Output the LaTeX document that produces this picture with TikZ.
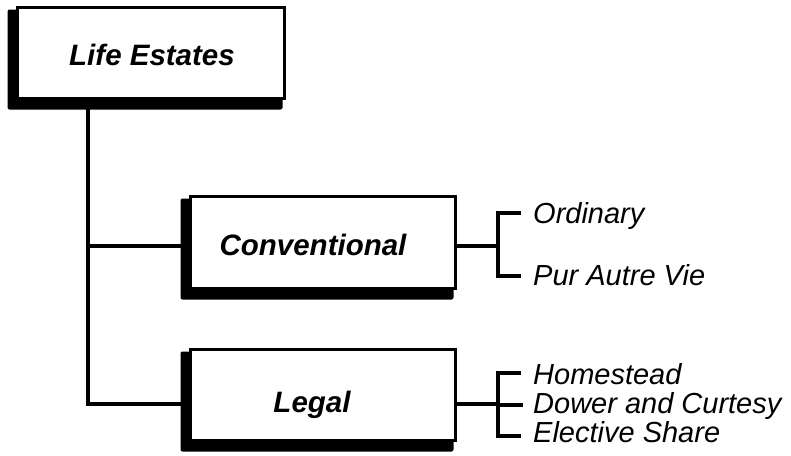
\documentclass[tikz,border=0pt]{standalone}
\usepackage{fontspec}
\setmainfont{Liberation Sans}
\usetikzlibrary{calc,backgrounds}
\begin{document}
\begin{tikzpicture}[x=1pt,y=-1pt,
  box/.style={draw=black,fill=white,line width=3pt,rectangle,inner sep=0pt},
  boxtext/.style={font=\fontsize{29.5}{32}\selectfont\bfseries\itshape},
  item/.style={anchor=west,inner sep=0pt,text height=20pt,text depth=4pt,
    font=\fontsize{29}{32}\selectfont\itshape},
  link/.style={line width=4pt,line cap=rect},
  shade/.style={fill=black,rounded corners=2pt}]
\useasboundingbox (0,0) rectangle (791,455);

% level boxes
\node[box,minimum width=267pt,minimum height=91pt] (life) at (150.5,52.5) {};
\node[boxtext] (lifet) at (152,55) {Life Estates};
\node[box,minimum width=265pt,minimum height=92pt] (conv) at (322.5,242) {};
\node[boxtext] (convt) at (313,245) {Conventional};
\node[box,minimum width=265pt,minimum height=91pt] (legal) at (322.5,394.5) {};
\node[boxtext] (legalt) at (312,405) {Legal};

% drop shadows to the lower left
\begin{pgfonlayer}{background}
  \foreach \b in {life,conv,legal}{
    \fill[shade] ($(\b.north west)+(-8,4)$) rectangle ($(\b.south east)+(-3,10)$);
  }
\end{pgfonlayer}

% trunk
\coordinate (ltop) at (88,98);
\coordinate (tconv) at (88,246);
\coordinate (tlegal) at (88,404);
\draw[line width=4pt] (ltop) -- (tlegal) -- ($(tlegal -| legal.west)+(-8,0)$);
\draw[link] (tconv) -- ($(tconv -| conv.west)+(-8,0)$);

% sub-items
\node[item] (ord) at (533,215) {Ordinary};
\node[item] (pur) at (533,277) {Pur Autre Vie};
\node[item] (home) at (533,376) {Homestead};
\node[item] (dower) at (533,405) {Dower and Curtesy};
\node[item] (elect) at (533,434) {Elective Share};

% brackets
\coordinate (bc) at (498,246);
\draw[link] (bc -| conv.east) -- (bc);
\draw[line width=4pt] ($(ord.west -| bc)+(23,-2)$) -- ($(ord.west -| bc)+(0,-2)$) -- ($(pur.west -| bc)+(0,-1)$) -- ($(pur.west -| bc)+(23,-1)$);
\coordinate (bl) at (498,404);
\draw[link] (bl -| legal.east) -- (bl);
\draw[line width=4pt] ($(home.west -| bl)+(23,-3)$) -- ($(home.west -| bl)+(0,-3)$) -- ($(elect.west -| bl)+(0,2)$) -- ($(elect.west -| bl)+(23,2)$);
\draw[link] (dower.west -| bl) -- ($(dower.west -| bl)+(23,0)$);
\end{tikzpicture}
\end{document}
